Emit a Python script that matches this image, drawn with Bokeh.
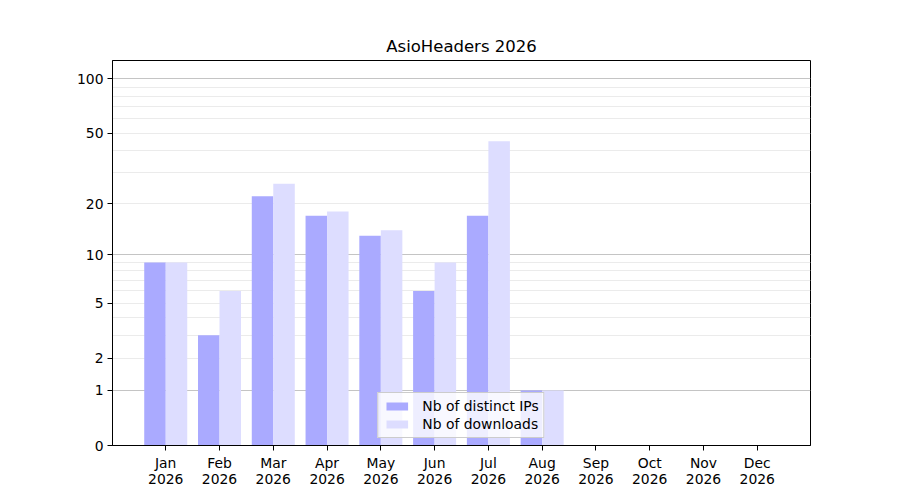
import numpy as np
from bokeh.plotting import figure
from bokeh.models import (ColumnDataSource, FixedTicker, Range1d, Grid, Legend, LegendItem, LinearAxis)
from bokeh.embed import file_html
from bokeh.resources import INLINE

months = ["Jan", "Feb", "Mar", "Apr", "May", "Jun", "Jul", "Aug", "Sep", "Oct", "Nov", "Dec"]
year = "2026"
distinct_ips = [9, 3, 22, 17, 13, 6, 17, 1, 0, 0, 0, 0]
downloads = [9, 6, 26, 18, 14, 9, 45, 1, 0, 0, 0, 0]
y_tick_values = [0, 1, 2, 5, 10, 20, 50, 100]
major_grid_values = [1, 10, 100]
minor_grid_values = [2, 3, 4, 5, 6, 7, 8, 9, 20, 30, 40, 50, 60, 70, 80, 90]
title_text = "AsioHeaders 2026"
series_names = ["Nb of distinct IPs", "Nb of downloads"]


def tr(v):
    if np.isscalar(v):
        return float(np.log10(1.0 + float(v)))
    return [float(t) for t in np.log10(1.0 + np.asarray(v, dtype=float))]


FONT = "DejaVu Sans"
FS = "13.9px"
x = np.arange(len(months))

src_ip = ColumnDataSource(dict(x=x - 0.2, top=tr(distinct_ips)))
src_dl = ColumnDataSource(dict(x=x + 0.2, top=tr(downloads)))

p = figure(width=892, height=492, output_backend="svg", toolbar_location=None,
           x_range=Range1d(-0.99, 11.99), y_range=Range1d(0, 2.1044),
           frame_width=698, frame_height=385,
           min_border_left=112, min_border_right=82, min_border_top=60, min_border_bottom=47)

p.title.text = title_text
p.title.align = "center"
p.title.text_font = FONT
p.title.text_font_size = "16.5px"
p.title.text_font_style = "normal"
p.title.text_color = "black"
p.title.standoff = 9

p.outline_line_color = "black"
p.outline_line_width = 1
p.outline_line_alpha = 1.0
p.xgrid.visible = False
p.ygrid.visible = False

g_minor = Grid(dimension=1, ticker=FixedTicker(ticks=tr(minor_grid_values)),
               grid_line_color="#ebebeb", grid_line_width=1)
g_major = Grid(dimension=1, ticker=FixedTicker(ticks=tr(major_grid_values)),
               grid_line_color="#c4c4c4", grid_line_width=1)
p.add_layout(g_minor)
p.add_layout(g_major)

r_ip = p.vbar(x="x", top="top", bottom=0, width=0.4, source=src_ip,
              fill_color="#aaaaff", line_color=None)
r_dl = p.vbar(x="x", top="top", bottom=0, width=0.4, source=src_dl,
              fill_color="#ddddff", line_color=None)

# axes
p.yaxis.ticker = FixedTicker(ticks=tr(y_tick_values))
p.yaxis.major_label_overrides = {tr(v): str(v) for v in y_tick_values}
p.xaxis.ticker = FixedTicker(ticks=[int(i) for i in x])
p.xaxis.major_label_overrides = {int(i): m for i, m in zip(x, months)}

year_axis = LinearAxis(ticker=FixedTicker(ticks=[int(i) for i in x]),
                       major_label_overrides={int(i): year for i in x})
p.add_layout(year_axis, "below")

for ax in (p.xaxis[0], p.yaxis[0]):
    ax.major_tick_in = 0
    ax.major_tick_out = 5
    ax.minor_tick_in = 0
    ax.minor_tick_out = 0
    ax.axis_line_color = "black"
    ax.major_tick_line_color = "black"
    ax.major_label_text_font = FONT
    ax.major_label_text_font_size = FS
    ax.major_label_text_color = "black"
    ax.major_label_standoff = 4

year_axis.major_tick_in = 0
year_axis.major_tick_out = 0
year_axis.minor_tick_in = 0
year_axis.minor_tick_out = 0
year_axis.axis_line_color = None
year_axis.major_tick_line_color = None
year_axis.major_label_text_font = FONT
year_axis.major_label_text_font_size = FS
year_axis.major_label_text_color = "black"
year_axis.major_label_standoff = 0

legend = Legend(items=[LegendItem(label=series_names[0], renderers=[r_ip]),
                       LegendItem(label=series_names[1], renderers=[r_dl])],
                location="bottom_center")
legend.label_text_font = FONT
legend.label_text_font_size = FS
legend.label_text_color = "black"
legend.background_fill_alpha = 0.8
legend.border_line_color = "#cccccc"
legend.border_line_alpha = 1.0
legend.margin = 7
legend.padding = 5
legend.spacing = 2
legend.glyph_width = 27
legend.glyph_height = 10
legend.label_standoff = 12
legend.label_height = 16
p.add_layout(legend, "center")

open("out.html", "w").write(file_html(p, INLINE))
